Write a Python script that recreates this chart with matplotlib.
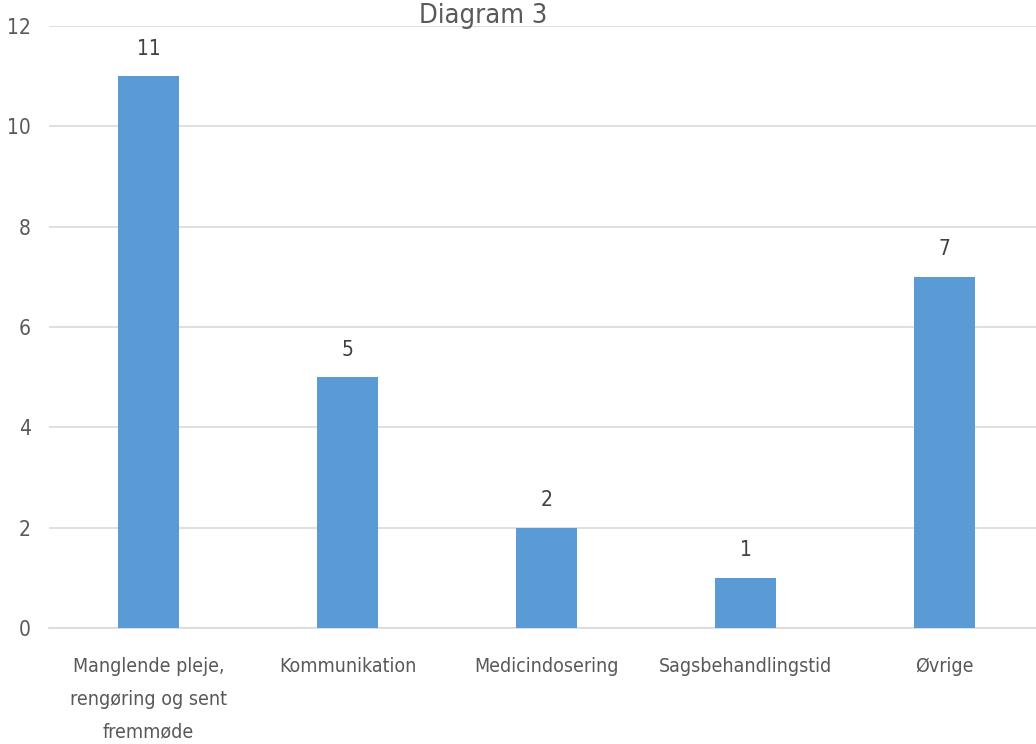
import matplotlib
matplotlib.use("Agg")
import matplotlib.pyplot as plt

categories = ["Manglende pleje,\nrengøring og sent\nfremmøde", "Kommunikation",
              "Medicindosering", "Sagsbehandlingstid", "Øvrige"]
values = [11, 5, 2, 1, 7]
yticks = [0, 2, 4, 6, 8, 10, 12]

plt.rcParams['font.family'] = ['DejaVu Sans']
plt.rcParams['font.stretch'] = 'condensed'
text_color = '#595959'

fig = plt.figure(figsize=(10.36, 7.44), dpi=100)
ax = fig.add_axes([49 / 1036, 1 - 628 / 744, 995 / 1036, 602 / 744])

x = list(range(len(categories)))
bars = ax.bar(x, values, width=0.31, color='#5B9BD5', zorder=3)
for b, v in zip(bars, values):
    ax.text(b.get_x() + b.get_width() / 2, v + 0.35, str(v), ha='center', va='bottom',
            fontsize=15, color='#404040', stretch='condensed')

ax.set_xlim(-0.5, 4.5)
ax.set_ylim(0, 12)
ax.set_yticks(yticks)
ax.set_xticks(x)
ax.set_xticklabels(categories, fontsize=14, color=text_color, linespacing=1.9,
                   stretch='condensed')
ax.tick_params(axis='y', labelsize=15, labelcolor=text_color, length=0, pad=13)
ax.tick_params(axis='x', length=0, pad=21)
for lbl in ax.get_yticklabels():
    lbl.set_stretch('condensed')
ax.grid(axis='y', color='#D9D9D9', linewidth=1.2, zorder=0)
for s in ['top', 'right', 'left']:
    ax.spines[s].set_visible(False)
ax.spines['bottom'].set_color('#D9D9D9')
ax.spines['bottom'].set_linewidth(1.2)

fig.text(483 / 1036, 1 - 16 / 744, "Diagram 3", ha='center', va='center',
         fontsize=19.5, color=text_color, stretch='condensed')

fig.savefig("out.png", dpi=100)
